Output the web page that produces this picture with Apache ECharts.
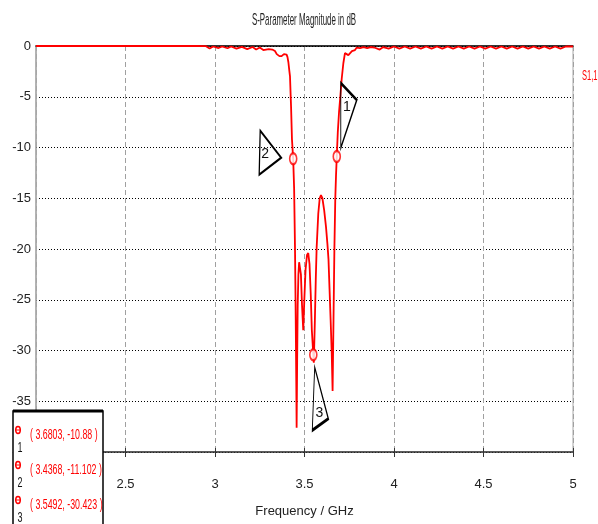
<!DOCTYPE html>
<html><head><meta charset="utf-8">
<script src="https://cdn.jsdelivr.net/npm/echarts@6/dist/echarts.min.js"></script>
<style>html,body{margin:0;padding:0;background:#fff}#c{width:598px;height:524px}</style>
</head><body><div id="c"></div>
<script>
// ---- data ----
const chartTitle = 'S-Parameter Magnitude in dB';
const xAxisName = 'Frequency / GHz';
const seriesName = 'S1,1';
const xMin = 2, xMax = 5, xStep = 0.5;
const yMin = -40, yMax = 0, yStep = 5;
const freq = [
  2.0, 2.5, 2.9, 2.95, 2.97, 2.99, 3.02, 3.04, 3.07, 3.09, 3.12, 3.15, 3.18, 3.21, 3.23, 3.25, 3.27,
  3.30, 3.32, 3.335, 3.345, 3.36, 3.372, 3.385, 3.393, 3.40, 3.405, 3.41, 3.415, 3.419, 3.425, 3.430,
  3.4368, 3.442, 3.447, 3.451, 3.454, 3.456, 3.459, 3.462, 3.466, 3.470, 3.475, 3.480, 3.486, 3.493,
  3.499, 3.506, 3.514, 3.521, 3.528, 3.535, 3.541, 3.5492, 3.552, 3.558, 3.563, 3.568, 3.577, 3.585,
  3.592, 3.600, 3.610, 3.620, 3.628, 3.634, 3.640, 3.646, 3.652, 3.657, 3.662, 3.667, 3.672, 3.676,
  3.6803, 3.686, 3.693, 3.700, 3.708, 3.717, 3.726, 3.737, 3.745, 3.755, 3.765, 3.775, 3.782, 3.792,
  3.81, 3.83, 3.85, 3.87, 3.89, 3.92, 3.94, 3.97, 4.00, 4.03, 4.06, 4.09, 4.12, 4.15, 4.18, 4.21,
  4.24, 4.27, 4.30, 4.33, 4.36, 4.39, 4.42, 4.45, 4.48, 4.51, 4.54, 4.57, 4.60, 4.63, 4.66, 4.69,
  4.72, 4.75, 4.78, 4.81, 4.84, 4.87, 4.90, 4.93, 4.96, 5.0
];
const s11 = [
  0, 0, 0, -0.02, -0.25, -0.05, -0.2, -0.05, -0.22, -0.05, -0.25, -0.08, -0.3, -0.1, -0.35, -0.15, -0.4,
  -0.3, -0.35, -0.5, -0.8, -1.0, -1.0, -0.8, -0.7, -0.85, -1.1, -1.6, -2.4, -3.0, -6.0, -9.2,
  -11.102, -14, -20, -27, -33, -37.6, -31, -25.5, -22.5, -21.3, -21.2, -22.5, -25.5, -28.0,
  -25, -22, -20.6, -20.4, -21.5, -24.5, -28, -30.423, -31.2, -27, -23, -19.8, -16.5, -15,
  -14.7, -15.0, -16.2, -17.8, -19.5, -21, -24, -27, -30.2, -34.0, -27, -20, -15, -12.8,
  -10.88, -8.5, -6.5, -5, -3.2, -1.7, -0.7, -0.75, -0.9, -0.8, -0.5, -0.35, -0.4, -0.15,
  -0.2, -0.1, -0.2, -0.1, -0.15, -0.35, -0.1, -0.25, -0.05, -0.25, -0.05, -0.25, -0.05, -0.25, -0.05, -0.25,
  -0.05, -0.25, -0.05, -0.25, -0.05, -0.25, -0.05, -0.25, -0.05, -0.25, -0.05, -0.25, -0.05, -0.25, -0.05, -0.25,
  -0.05, -0.25, -0.05, -0.25, -0.05, -0.25, -0.05, -0.25, -0.05, -0.05
];
const markerIds = ['1', '2', '3'];
const markerFreq = [3.6803, 3.4368, 3.5492];
const markerDb = [-10.88, -11.102, -30.423];

// ---- styling ----
const F = '"Liberation Sans", Arial, sans-serif';
const RED = '#ff0000';
const callouts = [
  { path: 'path://M0,0L16,17L0,65Z', size: [16, 65], offset: [12, -41], lab: [-2, -8] },
  { path: 'path://M1,0L22,27L0,44Z', size: [22, 44], offset: [-23, -6], lab: [-5, 1] },
  { path: 'path://M2.3,0L15.6,51.6L0,63.3Z', size: [16, 63], offset: [7, 44], lab: [-1, 14] }
];

const lineData = freq.map((f, i) => [f, s11[i]]);
const markerData = markerFreq.map((f, i) => [f, markerDb[i]]);

const chart = echarts.init(document.getElementById('c'), null, { renderer: 'canvas' });

function txt(x, y, s, fill, size, sx, align, z) {
  return { type: 'text', x: x, y: y, scaleX: sx, z: z, zlevel: 0,
    style: { text: s, fill: fill, fontSize: size, fontFamily: F, align: align, verticalAlign: 'middle',
             textAlign: align, textVerticalAlign: 'middle' } };
}

const BX = 13, BY = 411, BZ = 100;
const boxEls = [
  { type: 'rect', z: BZ, shape: { x: BX, y: BY, width: 90, height: 125 },
    style: { fill: '#fff', stroke: '#000', lineWidth: 1.5 } },
  { type: 'line', z: BZ + 1, shape: { x1: BX, y1: BY, x2: BX + 90, y2: BY }, style: { stroke: '#000', lineWidth: 3 } }
];
markerIds.forEach((id, i) => {
  const y0 = BY + 19 + 35 * i;
  boxEls.push({ type: 'ellipse', z: BZ + 1, shape: { cx: BX + 5, cy: y0, rx: 2.3, ry: 3.5 },
    style: { fill: '#fff', stroke: RED, lineWidth: 1.5 } });
  boxEls.push({ type: 'line', z: BZ + 2, shape: { x1: BX + 3, y1: y0, x2: BX + 7, y2: y0 }, style: { stroke: RED, lineWidth: 1 } });
  boxEls.push(txt(BX + 7, y0 + 18, id, '#111', 15, 0.6, 'center', BZ + 2));
  boxEls.push(txt(BX + 17, y0 + 5, '( ' + markerFreq[i] + ', ' + markerDb[i] + ' )', RED, 14, 0.63, 'left', BZ + 2));
});

chart.setOption({
  animation: false,
  backgroundColor: '#fff',
  grid: { left: 36, right: 25, top: 46, bottom: 72, show: true, borderColor: '#a8a8a8', borderWidth: 1 },
  xAxis: [{
    type: 'value', min: xMin, max: xMax, interval: xStep,
    name: xAxisName, nameLocation: 'middle', nameGap: 53,
    nameTextStyle: { fontSize: 13, fontFamily: F, color: '#222' },
    axisLine: { show: true, onZero: false, lineStyle: { color: '#333', width: 1.5 } },
    axisTick: { show: true, length: 5, lineStyle: { color: '#333' } },
    axisLabel: { fontSize: 13, fontFamily: F, color: '#222', margin: 26, formatter: v => String(v) },
    splitLine: { show: true, lineStyle: { color: '#a0a0a0', type: [5, 3], width: 1 } }
  }, {
    type: 'value', position: 'top', min: xMin, max: xMax, interval: xStep,
    axisLine: { show: true, onZero: false, lineStyle: { color: '#000', width: 1.5 } },
    axisTick: { show: false }, axisLabel: { show: false }, splitLine: { show: false }
  }, {
    type: 'value', position: 'bottom', min: xMin, max: xMax, interval: xStep,
    axisLine: { show: false, onZero: false },
    axisTick: { show: true, inside: true, length: 4, lineStyle: { color: '#333' } },
    axisLabel: { show: false }, splitLine: { show: false }
  }],
  yAxis: {
    type: 'value', min: yMin, max: yMax, interval: yStep,
    axisLine: { show: true, onZero: false, lineStyle: { color: '#a8a8a8', width: 1.5 } },
    axisTick: { show: false },
    axisLabel: { fontSize: 13, fontFamily: F, color: '#222', margin: 5 },
    splitLine: { show: true, lineStyle: { color: '#000', type: [1, 2], width: 1 } }
  },
  series: [{
    name: seriesName, type: 'line', data: lineData, showSymbol: false, symbol: 'none',
    lineStyle: { color: RED, width: 1.8 }, itemStyle: { color: RED }, z: 3
  }, {
    name: 'markers', type: 'scatter', data: markerData, symbol: 'emptyCircle', symbolSize: [7, 11],
    itemStyle: { color: RED, borderColor: RED, borderWidth: 1.5 }, z: 4,
    markPoint: {
      silent: true,
      data: markerIds.map((id, i) => ({
        coord: markerData[i], symbol: callouts[i].path, symbolSize: callouts[i].size,
        symbolOffset: callouts[i].offset, symbolKeepAspect: false,
        itemStyle: { color: 'rgba(255,255,255,0)', borderColor: '#000', borderWidth: 1.8 },
        label: { show: true, position: 'inside', formatter: id, color: '#111', fontSize: 14,
                 fontFamily: F, offset: callouts[i].lab }
      }))
    }
  }],
  graphic: [
    txt(304, 20, chartTitle, '#222', 17, 0.465, 'center', 10),
    txt(582, 76, seriesName, RED, 15, 0.5, 'left', 10)
  ].concat(boxEls)
});
</script>
</body></html>
